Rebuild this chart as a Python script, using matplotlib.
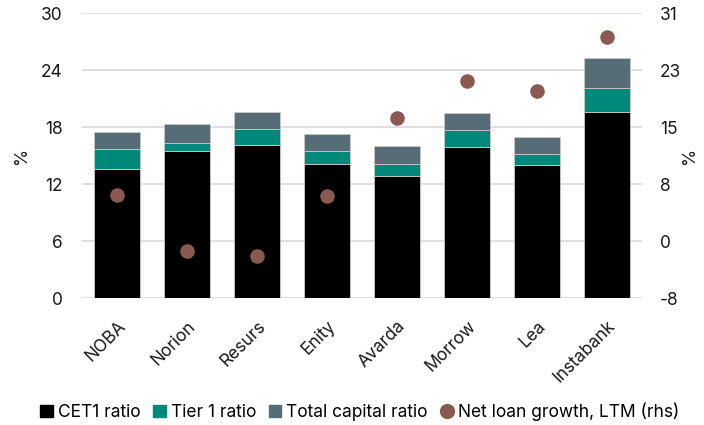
import matplotlib
matplotlib.use("Agg")
import matplotlib.pyplot as plt
import numpy as np
from matplotlib.lines import Line2D
from matplotlib.patches import Patch

plt.rcParams["font.family"] = ["Inter", "DejaVu Sans"]

# Data
banks = ["NOBA", "Norion", "Resurs", "Enity", "Avarda", "Morrow", "Lea", "Instabank"]
cet1 = [13.6, 15.5, 16.1, 14.1, 12.9, 15.9, 14.0, 19.6]
tier1 = [15.7, 16.4, 17.8, 15.5, 14.1, 17.7, 15.2, 22.1]
total_capital = [17.5, 18.4, 19.6, 17.3, 16.0, 19.5, 17.0, 25.3]
loan_growth = [6.1, -1.5, -2.2, 6.0, 16.7, 21.8, 20.4, 27.7]

left_ticks = [0, 6, 12, 18, 24, 30]
right_lim = (-8, 31)

c_cet1 = "#000000"
c_tier1 = "#00897b"
c_total = "#566c77"
c_dot = "#8a5a52"
c_grid = "#d9d9d9"
c_text = "#1a1a1a"

x = np.arange(len(banks))
w = 0.66

fig = plt.figure(figsize=(7.04, 4.25), dpi=100)
ax = fig.add_axes([82 / 704, 1 - 298.3 / 425, 560 / 704, 285 / 425])
ax2 = ax.twinx()

edge = dict(edgecolor="#c8c8c8", linewidth=0.6)
ax.bar(x, cet1, w, color=c_cet1, zorder=3, **edge)
ax.bar(x, np.subtract(tier1, cet1), w, bottom=cet1, color=c_tier1, zorder=3, **edge)
ax.bar(x, np.subtract(total_capital, tier1), w, bottom=tier1, color=c_total, zorder=3, **edge)

ax2.scatter(x, loan_growth, s=110, color=c_dot, zorder=4, linewidths=0)

ax.set_xlim(-0.5, len(banks) - 0.5)
ax.set_ylim(0, 30)
ax.set_yticks(left_ticks)
ax.grid(axis="y", color=c_grid, linewidth=1.2, zorder=0)
ax.set_axisbelow(True)

ax2.set_ylim(*right_lim)
rt = np.linspace(right_lim[0], right_lim[1], 6)
ax2.set_yticks(rt)
ax2.set_yticklabels([f"{int(round(v))}" for v in rt])

for a in (ax, ax2):
    for s in a.spines.values():
        s.set_visible(False)
    a.tick_params(axis="both", length=0, labelsize=12.5, colors=c_text)
ax.tick_params(axis="y", pad=14)
ax2.tick_params(axis="y", pad=13)

ax.set_xticks(x)
ax.set_xticklabels(banks, rotation=45, ha="right", rotation_mode="anchor")
ax.tick_params(axis="x", pad=14)

ax.set_ylabel("%", fontsize=12.5, color=c_text, labelpad=8)
ax2.set_ylabel("%", fontsize=12.5, color=c_text, labelpad=0, rotation=90)

handles = [
    Patch(color=c_cet1, label="CET1 ratio"),
    Patch(color=c_tier1, label="Tier 1 ratio"),
    Patch(color=c_total, label="Total capital ratio"),
    Line2D([], [], marker="o", linestyle="", markersize=10, color=c_dot,
           label="Net loan growth, LTM (rhs)"),
]
fig.legend(handles=handles, loc="center", bbox_to_anchor=(360 / 704, 1 - 412 / 425),
           ncol=4, frameon=False, fontsize=12.5, handlelength=0.7, handleheight=0.7,
           handletextpad=0.3, columnspacing=0.75)

fig.savefig("out.png", dpi=100)
